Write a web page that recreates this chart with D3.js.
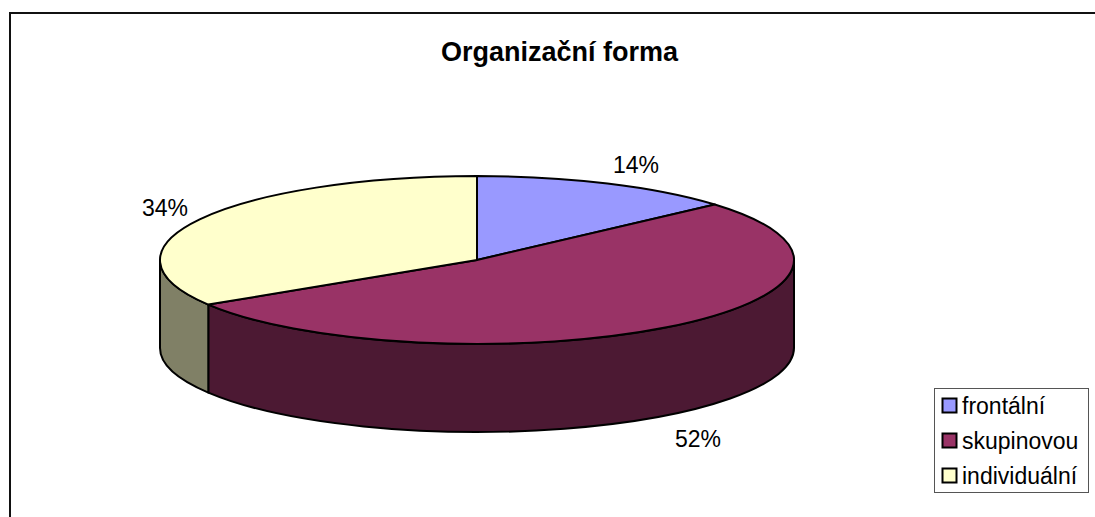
<!DOCTYPE html>
<html>
<head>
<meta charset="utf-8">
<script src="https://cdn.jsdelivr.net/npm/d3@7"></script>
<style>
    html, body { margin: 0; padding: 0; background: #fff; }
    svg { display: block; }
    text { font-family: "Liberation Sans", Arial, sans-serif; fill: #000; }
</style>
</head>
<body>
<div id="chart"></div>
<script>
const categories = ['frontální', 'skupinovou', 'individuální'];
// slice sizes as measured on the drawn disc, the printed labels are rounded differently
const shares = [13.5, 52.6, 33.9];
const percentLabels = ['14%', '52%', '34%'];
const topColors = ['#9999FF', '#993366', '#FFFFCC'];
const sideColors = ['#4C4C80', '#4C1933', '#808066'];

const width = 1095;
const height = 517;
const cx = 477, cy = 260, rx = 317, ry = 84, depth = 88;

const svg = d3.select('#chart')
    .append('svg')
    .attr('width', width)
    .attr('height', height);

// chart area border, only top and left are in the picture
svg.append('path')
    .attr('d', `M10,${height}V13H${width}`)
    .attr('fill', 'none')
    .attr('stroke', '#111')
    .attr('stroke-width', 2);

svg.append('text')
    .attr('x', 559.5)
    .attr('y', 61)
    .attr('text-anchor', 'middle')
    .attr('font-weight', 'bold')
    .attr('font-size', 27)
    .text('Organizační forma');

const data = categories.map((name, i) => ({name, share: shares[i], i}));

const pie = d3.pie()
    .sort(null)
    .value(d => d.share);

const arcs = pie(data);

// angle 0 is at 12 o'clock and goes clockwise, same as d3.pie
const px = (a, dy = 0) => [cx + rx * Math.sin(a), cy - ry * Math.cos(a) + dy];

function sidePath(d) {
    // only the front half of the disc shows a wall
    const a0 = Math.max(d.startAngle, Math.PI / 2);
    const a1 = Math.min(d.endAngle, Math.PI * 1.5);
    if (a1 <= a0) return null;
    const p0 = px(a0), p1 = px(a1), q0 = px(a0, depth), q1 = px(a1, depth);
    return `M${p0}A${rx},${ry} 0 0 1 ${p1}L${q1}A${rx},${ry} 0 0 0 ${q0}Z`;
}

function topPath(d) {
    const large = d.endAngle - d.startAngle > Math.PI ? 1 : 0;
    return `M${cx},${cy}L${px(d.startAngle)}A${rx},${ry} 0 ${large} 1 ${px(d.endAngle)}Z`;
}

svg.selectAll('.side')
    .data(arcs.filter(d => sidePath(d)))
    .enter()
    .append('path')
    .attr('class', 'side')
    .attr('d', sidePath)
    .attr('fill', d => sideColors[d.data.i])
    .attr('stroke', '#000')
    .attr('stroke-width', 2)
    .attr('stroke-linejoin', 'round');

svg.selectAll('.slice')
    .data(arcs)
    .enter()
    .append('path')
    .attr('class', 'slice')
    .attr('d', topPath)
    .attr('fill', d => topColors[d.data.i])
    .attr('stroke', '#000')
    .attr('stroke-width', 2)
    .attr('stroke-linejoin', 'round');

// percent labels sit outside the disc
const labelPos = [[636, 173], [698, 447], [165, 216]];

svg.selectAll('.pct')
    .data(arcs)
    .enter()
    .append('text')
    .attr('class', 'pct')
    .attr('x', d => labelPos[d.data.i][0])
    .attr('y', d => labelPos[d.data.i][1])
    .attr('text-anchor', 'middle')
    .attr('font-size', 23)
    .text(d => percentLabels[d.data.i]);

// Legend
const legend = svg.append('g');

legend.append('rect')
    .attr('x', 934.5)
    .attr('y', 388.5)
    .attr('width', 154)
    .attr('height', 104)
    .attr('fill', '#fff')
    .attr('stroke', '#555')
    .attr('stroke-width', 1);

const legendY = d3.scalePoint()
    .domain(categories)
    .range([405.5, 475.5]);

const items = legend.selectAll('.item')
    .data(data)
    .enter()
    .append('g')
    .attr('class', 'item')
    .attr('transform', d => `translate(0,${legendY(d.name)})`);

items.append('rect')
    .attr('x', 942.5)
    .attr('y', -7)
    .attr('width', 14)
    .attr('height', 14)
    .attr('fill', d => topColors[d.i])
    .attr('stroke', '#000')
    .attr('stroke-width', 2);

items.append('text')
    .attr('x', 962)
    .attr('y', 8)
    .attr('font-size', 23)
    .text(d => d.name);
</script>
</body>
</html>
